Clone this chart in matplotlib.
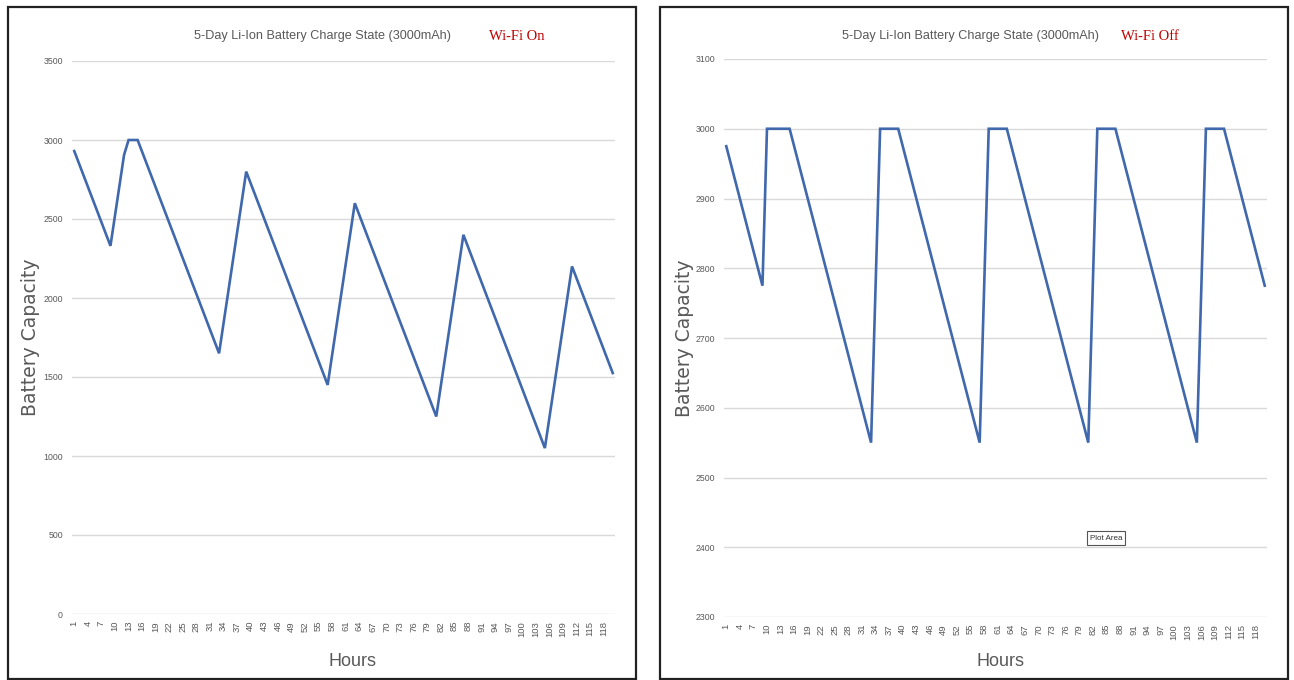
import matplotlib
matplotlib.use("Agg")
import matplotlib.pyplot as plt
from matplotlib.patches import Rectangle

# ---- data ----
hours = list(range(1, 121))

wifi_on = [
    2930, 2855, 2780, 2705, 2630, 2555, 2480, 2405, 2330,
    2522, 2713, 2905, 3000, 3000, 3000,
    2925, 2850, 2775, 2700, 2625, 2550, 2475, 2400, 2325, 2250, 2175, 2100, 2025, 1950, 1875, 1800, 1725, 1650,
    1842, 2033, 2225, 2417, 2608, 2800,
    2725, 2650, 2575, 2500, 2425, 2350, 2275, 2200, 2125, 2050, 1975, 1900, 1825, 1750, 1675, 1600, 1525, 1450,
    1642, 1833, 2025, 2217, 2408, 2600,
    2525, 2450, 2375, 2300, 2225, 2150, 2075, 2000, 1925, 1850, 1775, 1700, 1625, 1550, 1475, 1400, 1325, 1250,
    1442, 1633, 1825, 2017, 2208, 2400,
    2325, 2250, 2175, 2100, 2025, 1950, 1875, 1800, 1725, 1650, 1575, 1500, 1425, 1350, 1275, 1200, 1125, 1050,
    1242, 1433, 1625, 1817, 2008, 2200,
    2125, 2050, 1975, 1900, 1825, 1750, 1675, 1600, 1525,
]

wifi_off = [
    2975, 2950, 2925, 2900, 2875, 2850, 2825, 2800, 2775,
    3000, 3000, 3000, 3000, 3000, 3000,
    2975, 2950, 2925, 2900, 2875, 2850, 2825, 2800, 2775, 2750, 2725, 2700, 2675, 2650, 2625, 2600, 2575, 2550,
    2775, 3000, 3000, 3000, 3000, 3000,
    2975, 2950, 2925, 2900, 2875, 2850, 2825, 2800, 2775, 2750, 2725, 2700, 2675, 2650, 2625, 2600, 2575, 2550,
    2775, 3000, 3000, 3000, 3000, 3000,
    2975, 2950, 2925, 2900, 2875, 2850, 2825, 2800, 2775, 2750, 2725, 2700, 2675, 2650, 2625, 2600, 2575, 2550,
    2775, 3000, 3000, 3000, 3000, 3000,
    2975, 2950, 2925, 2900, 2875, 2850, 2825, 2800, 2775, 2750, 2725, 2700, 2675, 2650, 2625, 2600, 2575, 2550,
    2775, 3000, 3000, 3000, 3000, 3000,
    2975, 2950, 2925, 2900, 2875, 2850, 2825, 2800, 2775,
]

xtick_hours = list(range(1, 121, 3))
yticks_on = [0, 500, 1000, 1500, 2000, 2500, 3000, 3500]
yticks_off = [2300, 2400, 2500, 2600, 2700, 2800, 2900, 3000, 3100]

title_text = "5-Day Li-Ion Battery Charge State (3000mAh)"
tags = ["Wi-Fi On", "Wi-Fi Off"]

# ---- styling ----
W, H = 1294, 680
fig = plt.figure(figsize=(W / 100, H / 100), dpi=100)
fig.patch.set_facecolor("white")

narrow = ["Liberation Sans", "DejaVu Sans"]
gray = "#595959"
line_color = "#4068AC"
grid_color = "#D9D9D9"

def px_rect(x0, y0, x1, y1):
    return [x0 / W, 1 - y1 / H, (x1 - x0) / W, (y1 - y0) / H]

panels = [
    dict(box=(8, 7, 636, 679), ax=(72, 61, 615, 614), data=wifi_on, yt=yticks_on,
         ylim=(0, 3500), title_x=322, tag_x=517, xlabel_x=352, ylab_x=31, ypad=6.5),
    dict(box=(660, 7, 1288, 679), ax=(724, 59, 1267, 617), data=wifi_off, yt=yticks_off,
         ylim=(2300, 3100), title_x=970, tag_x=1150, xlabel_x=1000, ylab_x=684, ypad=6.5),
]

for i, p in enumerate(panels):
    bx0, by0, bx1, by1 = p["box"]
    fig.patches.append(Rectangle((bx0 / W, 1 - by1 / H), (bx1 - bx0) / W, (by1 - by0) / H,
                                 transform=fig.transFigure, fill=False,
                                 edgecolor="#222222", linewidth=1.6, zorder=0))
    ax = fig.add_axes(px_rect(*p["ax"]))
    ax.plot(hours, p["data"], color=line_color, linewidth=1.9, solid_joinstyle="miter")
    ax.set_xlim(0.5, 120.5)
    ax.set_ylim(*p["ylim"])
    ax.set_yticks(p["yt"])
    ax.set_yticklabels([str(v) for v in p["yt"]], fontsize=6.3, color=gray, family=narrow)
    ax.set_xticks(xtick_hours)
    ax.set_xticklabels([str(h) for h in xtick_hours], rotation=90, fontsize=6.8,
                       color=gray, family=narrow)
    ax.tick_params(axis="both", length=0)
    ax.tick_params(axis="y", pad=p["ypad"])
    ax.tick_params(axis="x", pad=5)
    for s in ax.spines.values():
        s.set_visible(False)
    ax.yaxis.grid(True, color=grid_color, linewidth=1.0)
    ax.set_axisbelow(True)

    x0 = p["ax"][0]
    ax.set_ylabel("Battery Capacity", fontsize=13.5, color=gray)
    ax.yaxis.label.set_va("center")
    ax.yaxis.set_label_coords((p["ylab_x"] - x0) / (p["ax"][2] - x0), 0.5)

    fig.text(p["title_x"] / W, 1 - 36 / H, title_text, fontsize=9.1, color=gray,
             family=narrow, ha="center", va="center")
    fig.text(p["tag_x"] / W, 1 - 37 / H, tags[i], fontsize=10.5, color="#C00000",
             family=["Liberation Serif", "DejaVu Serif"], ha="center", va="center")
    fig.text(p["xlabel_x"] / W, 1 - 662 / H, "Hours", fontsize=13, color=gray,
             family=narrow, ha="center", va="center")

# "Plot Area" tooltip on right chart
fig.text(1106 / W, 1 - 538 / H, "Plot Area", fontsize=5.8, color="#333333", family=narrow,
         ha="center", va="center",
         bbox=dict(boxstyle="square,pad=0.4", facecolor="white", edgecolor="#555555", linewidth=0.8))

fig.savefig("out.png", dpi=100, facecolor="white")
